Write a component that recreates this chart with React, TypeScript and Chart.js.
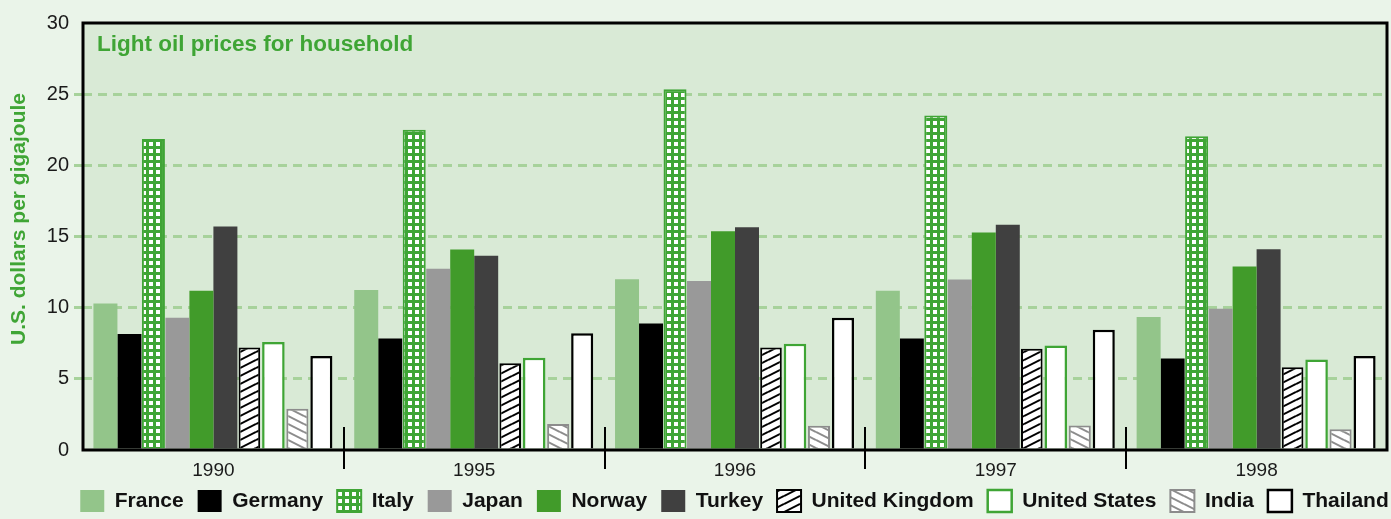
import React, { useEffect, useRef } from "react";
import { Chart, registerables } from "chart.js";

Chart.register(...registerables);

const years = ["1990", "1995", "1996", "1997", "1998"];
const france = [10.3, 11.25, 12.0, 11.18, 9.35];
const germany = [8.15, 7.83, 8.89, 7.83, 6.43];
const italy = [21.85, 22.5, 25.35, 23.5, 22.05];
const japan = [9.3, 12.73, 11.88, 11.98, 9.93];
const norway = [11.18, 14.08, 15.37, 15.28, 12.9];
const turkey = [15.7, 13.65, 15.65, 15.82, 14.1];
const unitedKingdom = [7.2, 6.1, 7.2, 7.12, 5.82];
const unitedStates = [7.58, 6.49, 7.46, 7.34, 6.36];
const india = [2.9, 1.83, 1.71, 1.73, 1.46];
const thailand = [6.6, 8.21, 9.29, 8.45, 6.6];

const yMin = 0;
const yMax = 30;
const yStep = 5;

const chartTitle = "Light oil prices for household";
const yTitle = "U.S. dollars per gigajoule";

const FONT = "'Liberation Sans', Arial, Helvetica, sans-serif";
const PAGE_BG = "#eaf4e9";
const PLOT_BG = "#d9ead6";
const GREEN = "#3fa535";
const GRID = "#a7d29b";

function makeTile(w: number, h: number) {
  const c = document.createElement("canvas");
  c.width = w;
  c.height = h;
  return c;
}

function gridPattern(ctx: CanvasRenderingContext2D) {
  const c = makeTile(7, 7);
  const g = c.getContext("2d")!;
  g.fillStyle = GREEN;
  g.fillRect(0, 0, 7, 7);
  g.fillStyle = "#ffffff";
  g.fillRect(2, 2, 4, 4);
  return ctx.createPattern(c, "repeat")!;
}

function hatchPattern(ctx: CanvasRenderingContext2D, color: string, forward: boolean) {
  const w = 16;
  const h = 8;
  const c = makeTile(w, h);
  const g = c.getContext("2d")!;
  g.fillStyle = "#ffffff";
  g.fillRect(0, 0, w, h);
  g.strokeStyle = color;
  g.lineWidth = 2;
  for (const off of [-h, 0, h]) {
    g.beginPath();
    if (forward) {
      g.moveTo(0, h + off);
      g.lineTo(w, 0 + off);
    } else {
      g.moveTo(0, 0 + off);
      g.lineTo(w, h + off);
    }
    g.stroke();
  }
  return ctx.createPattern(c, "repeat")!;
}

const LEGEND_SHIFT = 41;

const decorPlugin = {
  id: "decor",
  afterLayout(chart: any) {
    if (chart.legend) {
      chart.legend.left += LEGEND_SHIFT;
      chart.legend.right += LEGEND_SHIFT;
    }
  },
  beforeDraw(chart: any) {
    const { ctx, chartArea } = chart;
    ctx.save();
    ctx.fillStyle = PAGE_BG;
    ctx.fillRect(0, 0, chart.width, chart.height);
    ctx.fillStyle = PLOT_BG;
    ctx.fillRect(chartArea.left, chartArea.top, chartArea.right - chartArea.left, chartArea.bottom - chartArea.top);
    ctx.restore();
  },
  afterDatasetsDraw(chart: any) {
    const { ctx, chartArea } = chart;
    const xs = chart.scales.x;
    ctx.save();
    // frame
    ctx.strokeStyle = "#000";
    ctx.lineWidth = 3;
    ctx.strokeRect(chartArea.left, chartArea.top, chartArea.right - chartArea.left, chartArea.bottom - chartArea.top);
    // category separators
    ctx.lineWidth = 2;
    for (let i = 0; i < years.length - 1; i++) {
      const x = Math.round((xs.getPixelForValue(i) + xs.getPixelForValue(i + 1)) / 2);
      ctx.beginPath();
      ctx.moveTo(x, chartArea.bottom - 23);
      ctx.lineTo(x, chartArea.bottom + 19);
      ctx.stroke();
    }
    // in-plot title
    ctx.fillStyle = GREEN;
    ctx.font = `bold 22.5px ${FONT}`;
    ctx.textAlign = "left";
    ctx.textBaseline = "alphabetic";
    ctx.fillText(chartTitle, chartArea.left + 14, chartArea.top + 28);
    // y axis title
    ctx.translate(19, 219);
    ctx.rotate(-Math.PI / 2);
    ctx.textAlign = "center";
    ctx.textBaseline = "middle";
    ctx.font = `bold 21px ${FONT}`;
    ctx.fillText(yTitle, 0, 0);
    ctx.restore();
  },
};

export default function App() {
  const ref = useRef<HTMLCanvasElement | null>(null);

  useEffect(() => {
    document.body.style.margin = "0";
    document.body.style.background = PAGE_BG;
    const canvas = ref.current!;
    const ctx = canvas.getContext("2d")!;
    const italyFill = gridPattern(ctx);
    const ukFill = hatchPattern(ctx, "#000000", true);
    const indiaFill = hatchPattern(ctx, "#8c8c8c", false);

    const chart = new Chart(canvas, {
      type: "bar",
      data: {
        labels: years,
        datasets: [
          { label: "France", data: france, backgroundColor: "#93c58a", borderWidth: 0 },
          { label: "Germany", data: germany, backgroundColor: "#000000", borderWidth: 0 },
          { label: "Italy", data: italy, backgroundColor: italyFill as any, borderColor: GREEN, borderWidth: 2, barPercentage: 0.96 },
          { label: "Japan", data: japan, backgroundColor: "#999999", borderWidth: 0 },
          { label: "Norway", data: norway, backgroundColor: "#419b2a", borderWidth: 0 },
          { label: "Turkey", data: turkey, backgroundColor: "#404040", borderWidth: 0 },
          { label: "United Kingdom", data: unitedKingdom, backgroundColor: ukFill as any, borderColor: "#000000", borderWidth: 2, barPercentage: 0.9 },
          { label: "United States", data: unitedStates, backgroundColor: "#ffffff", borderColor: GREEN, borderWidth: 2.5, barPercentage: 0.94 },
          { label: "India", data: india, backgroundColor: indiaFill as any, borderColor: "#8c8c8c", borderWidth: 2, barPercentage: 0.92 },
          { label: "Thailand", data: thailand, backgroundColor: "#ffffff", borderColor: "#000000", borderWidth: 2.5, barPercentage: 0.92 },
        ] as any,
      },
      options: {
        responsive: false,
        animation: false,
        layout: { padding: { left: 0, right: 4, top: 23, bottom: -3 } },
        datasets: { bar: { categoryPercentage: 0.92, barPercentage: 1 } } as any,
        plugins: {
          legend: {
            position: "bottom",
            labels: {
              boxWidth: 24,
              boxHeight: 22,
              padding: 14,
              color: "#111111",
              font: { family: FONT, size: 21, weight: "bold" },
            },
          },
          tooltip: { enabled: false },
          title: { display: false },
        },
        scales: {
          x: {
            afterFit: (s: any) => {
              s.height = 26;
            },
            grid: { display: false, drawTicks: false },
            border: { display: false },
            ticks: { color: "#1a1a1a", font: { family: FONT, size: 19 }, padding: 9 },
          },
          y: {
            min: yMin,
            max: yMax,
            afterFit: (s: any) => {
              s.width = 83;
            },
            border: { display: false, dash: [9, 6] },
            grid: {
              color: (c: any) => (c.tick && (c.tick.value === yMin || c.tick.value === yMax) ? "rgba(0,0,0,0)" : GRID),
              lineWidth: 3,
              tickLength: 9,
              tickBorderDash: [],
            },
            ticks: {
              stepSize: yStep,
              color: "#1a1a1a",
              font: { family: FONT, size: 20 },
              padding: 5,
            },
          },
        },
      },
      plugins: [decorPlugin],
    });
    return () => chart.destroy();
  }, []);

  return (
    <div style={{ width: 1391, height: 519, background: PAGE_BG }}>
      <canvas ref={ref} width={1391} height={519} style={{ display: "block" }} />
    </div>
  );
}
